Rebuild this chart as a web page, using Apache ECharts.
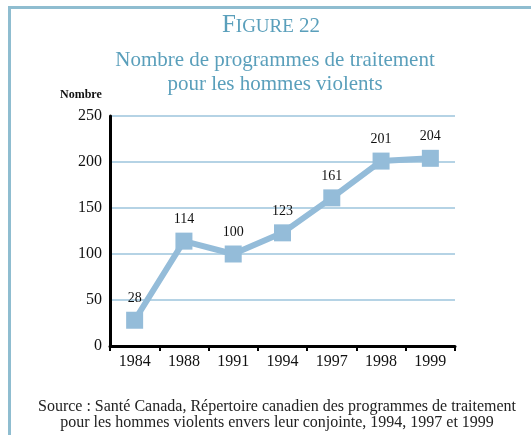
<!DOCTYPE html>
<html>
<head>
<meta charset="utf-8">
<script src="https://cdn.jsdelivr.net/npm/echarts@6/dist/echarts.min.js"></script>
<style>
  html, body { margin: 0; padding: 0; background: #fff; }
  #chart { position: absolute; left: 8px; top: 6px; width: 523px; height: 429px;
    border-top: 3px solid #8fbdd0; border-left: 3px solid #8fbdd0; box-sizing: border-box; }
</style>
</head>
<body>
<div id="chart"></div>
<script>
var years = ['1984', '1988', '1991', '1994', '1997', '1998', '1999']
var programmes = [28, 114, 100, 123, 161, 201, 204]
var yTicks = [0, 50, 100, 150, 200, 250]

var chart = echarts.init(document.getElementById('chart'))
var serif = '"Liberation Serif", "DejaVu Serif", serif'
var blue = '#94bcd9'
var teal = '#5a9fbb'

chart.setOption({
  title: [{
    text: '{big|F}{small|IGURE}{num| 22}',
    left: 255, top: -1, textAlign: 'center',
    textStyle: {
      rich: {
        big: { fontFamily: serif, fontSize: 25, fontWeight: 'normal', color: teal },
        small: { fontFamily: serif, fontSize: 19, fontWeight: 'normal', color: teal, padding: [3, 0, 0, 0] },
        num: { fontFamily: serif, fontSize: 21, fontWeight: 'normal', color: teal, padding: [2, 0, 0, 0] }
      }
    }
  }, {
    text: 'Nombre de programmes de traitement\npour les hommes violents',
    left: 259, top: 34, textAlign: 'center',
    textStyle: { fontFamily: serif, fontSize: 21, fontWeight: 'normal', color: teal, lineHeight: 24 }
  }, {
    text: 'Nombre',
    left: 44, top: 75,
    textStyle: { fontFamily: serif, fontSize: 12, fontWeight: 'bold', color: '#111' }
  }, {
    text: 'Source : Santé Canada, Répertoire canadien des programmes de traitement\npour les hommes violents envers leur conjointe, 1994, 1997 et 1999',
    left: 261, top: 385, textAlign: 'center',
    textStyle: { fontFamily: serif, fontSize: 16, fontWeight: 'normal', color: '#222', lineHeight: 16 }
  }],
  grid: { left: 99, top: 107, right: 76, bottom: 89 },
  xAxis: {
    type: 'category',
    data: years,
    boundaryGap: true,
    axisLine: { lineStyle: { color: '#000', width: 3 } },
    axisTick: { show: true, length: 5, lineStyle: { color: '#000', width: 2 } },
    axisLabel: { fontFamily: serif, fontSize: 16, color: '#111', margin: 8 }
  },
  yAxis: {
    type: 'value',
    min: yTicks[0],
    max: yTicks[yTicks.length - 1],
    interval: 50,
    axisLine: { show: true, lineStyle: { color: '#000', width: 3 } },
    axisTick: { show: false },
    axisLabel: { fontFamily: serif, fontSize: 16, color: '#111', margin: 8 },
    splitLine: { lineStyle: { color: '#9cc4dc', width: 1.5 } }
  },
  series: [{
    type: 'line',
    data: programmes,
    symbol: 'rect',
    symbolSize: 17,
    itemStyle: { color: blue },
    lineStyle: { color: blue, width: 6 },
    label: {
      show: true, position: 'top', distance: 6,
      fontFamily: serif, fontSize: 14, color: '#111'
    },
    animation: false
  }]
})
</script>
</body>
</html>
